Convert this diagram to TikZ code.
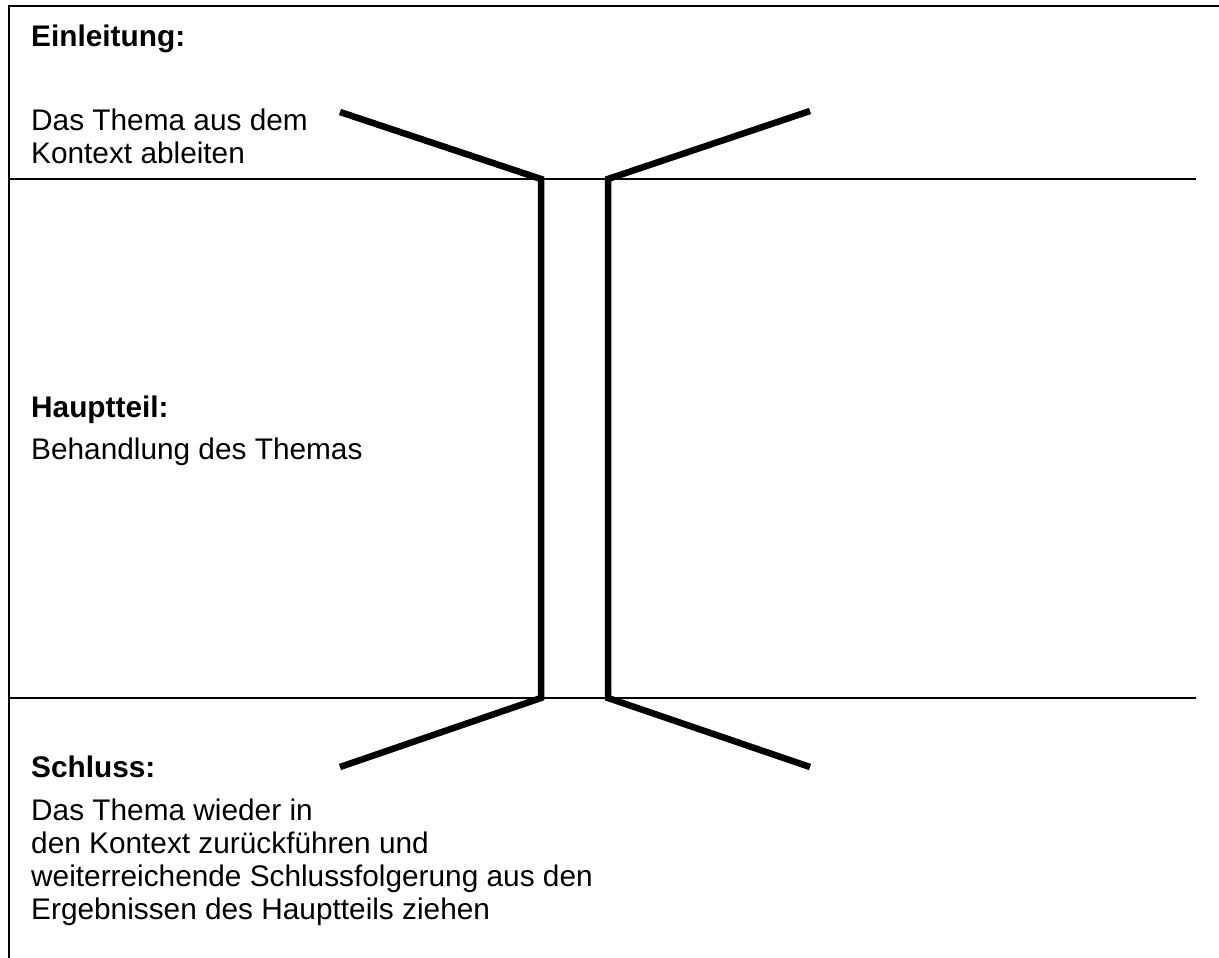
\documentclass[tikz,border=0pt]{standalone}
\usepackage{fontspec}
\setmainfont{Liberation Sans}
\begin{document}
\begin{tikzpicture}[x=1pt,y=-1pt,
  frameline/.style={line width=2.8pt,line cap=butt},
  thickline/.style={line width=6.5pt,line cap=butt,line join=miter},
  txt/.style={inner sep=0pt,anchor=base west,align=left,
    font=\fontsize{29.8}{33}\selectfont}]
\useasboundingbox (0,0) rectangle (1219,958);
% frame
\coordinate (tr) at (1219,6);
\coordinate (tl) at (9,6);
\coordinate (bl) at (9,958);
\draw[frameline] (tr) -- (tl) -- (bl);
% horizontal dividers
\coordinate (h1a) at (9,179);
\coordinate (h1b) at (1196,179);
\coordinate (h2a) at (9,698);
\coordinate (h2b) at (1196,698);
\draw[frameline] (h1a) -- (h1b);
\draw[frameline] (h2a) -- (h2b);
% funnel shape
\coordinate (ltop) at (340,112);
\coordinate (lc1) at (541,179);
\coordinate (lc2) at (541,698);
\coordinate (lbot) at (340,767);
\coordinate (rtop) at (810,111);
\coordinate (rc1) at (608,179);
\coordinate (rc2) at (608,698);
\coordinate (rbot) at (810,767);
\draw[thickline] (ltop) -- (lc1) -- (lc2) -- (lbot);
\draw[thickline] (rtop) -- (rc1) -- (rc2) -- (rbot);
% texts (base anchor of a multi-line node = baseline of its last line)
\node[txt] (ein) at (31,47) {\bfseries Einleitung:};
\node[txt] (eintxt) at (31,163) {Das Thema aus dem\\Kontext ableiten};
\node[txt] (haupt) at (31,417) {\bfseries Hauptteil:};
\node[txt] (haupttxt) at (31,459) {Behandlung des Themas};
\node[txt] (schluss) at (31,777) {\bfseries Schluss:};
\node[txt] (schlusstxt) at (31,919) {Das Thema wieder in\\den Kontext zurückführen und\\weiterreichende Schlussfolgerung aus den\\Ergebnissen des Hauptteils ziehen};
\end{tikzpicture}
\end{document}
